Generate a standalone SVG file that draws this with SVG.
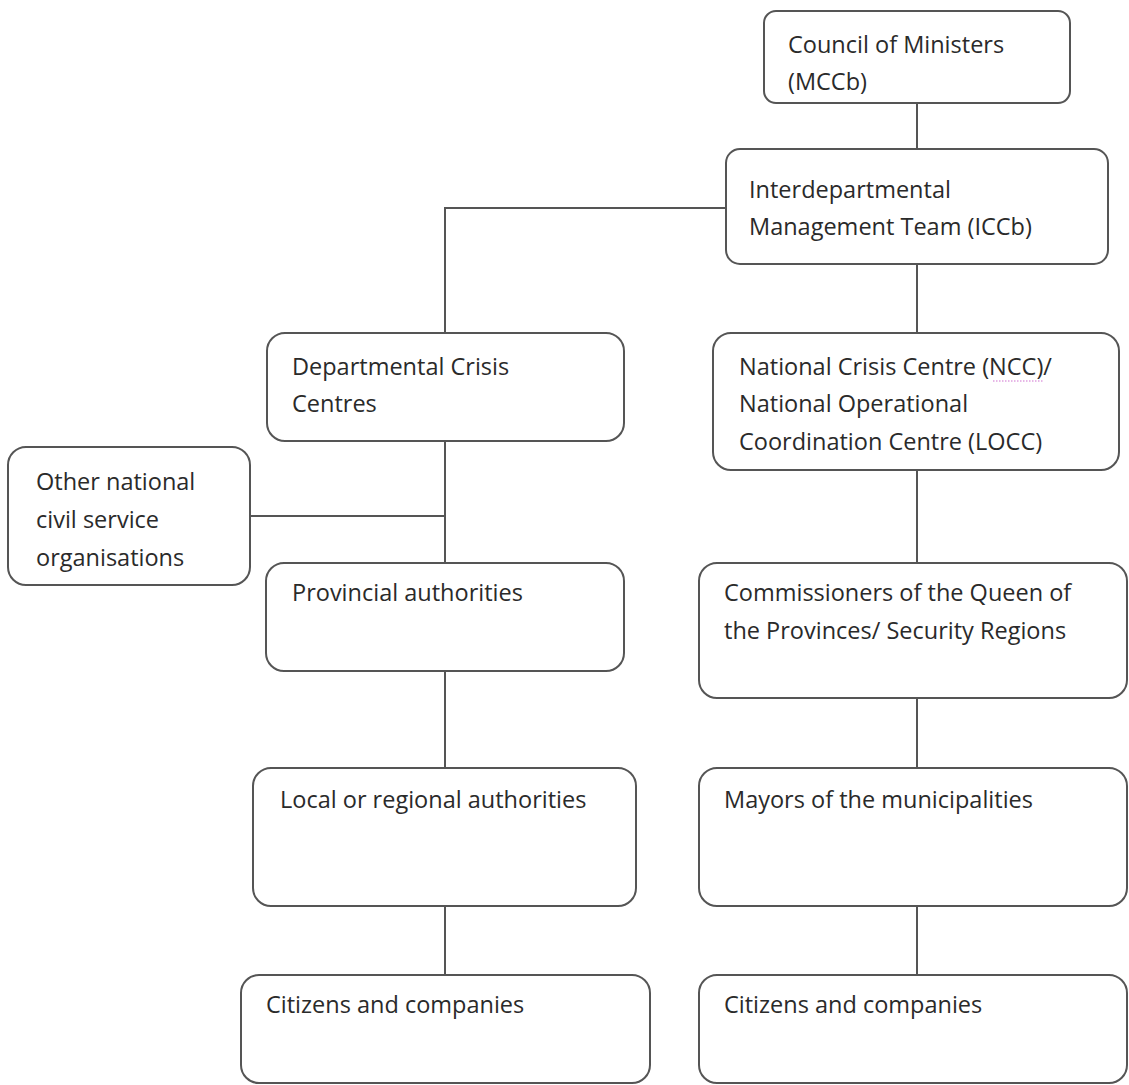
<svg xmlns="http://www.w3.org/2000/svg" width="1129" height="1085" viewBox="0 0 1129 1085">
<style>
.box{fill:#fff;stroke:#555;stroke-width:2}
.lbl{font-family:"Open Sans","Liberation Sans",sans-serif;font-size:23.5px;fill:#2a2a2a}
.con{fill:none;stroke:#555;stroke-width:2}
</style>
<rect width="1129" height="1085" fill="#fff"/>
<g id="connectors">
<path class="con" d="M917 103V149"/>
<path class="con" d="M726 208H445V333"/>
<path class="con" d="M917 264V333"/>
<path class="con" d="M445 441V563"/>
<path class="con" d="M250 516H445"/>
<path class="con" d="M917 469V563"/>
<path class="con" d="M445 671V768"/>
<path class="con" d="M917 698V768"/>
<path class="con" d="M445 906V975"/>
<path class="con" d="M917 906V975"/>
</g>
<g id="council"><rect class="box" x="764" y="11" width="306" height="92" rx="12"/>
<text class="lbl" x="788" y="53">Council of Ministers</text><text class="lbl" x="788" y="90">(MCCb)</text></g>
<g id="iccb"><rect class="box" x="726" y="149" width="382" height="115" rx="14"/>
<text class="lbl" x="749" y="198">Interdepartmental</text><text class="lbl" x="749" y="235">Management Team (ICCb)</text></g>
<g id="dcc"><rect class="box" x="267" y="333" width="357" height="108" rx="18"/>
<text class="lbl" x="292" y="375">Departmental Crisis</text><text class="lbl" x="292" y="412">Centres</text></g>
<g id="ncc"><rect class="box" x="713" y="333" width="406" height="137" rx="18"/>
<text class="lbl" x="739" y="375">National Crisis Centre (NCC)/</text><text class="lbl" x="739" y="412">National Operational</text><text class="lbl" x="739" y="450">Coordination Centre (LOCC)</text>
<path d="M993 381H1044" stroke="#d070d0" stroke-width="1.2" stroke-dasharray="1.5 1.5"/></g>
<g id="other"><rect class="box" x="8" y="447" width="242" height="138" rx="18"/>
<text class="lbl" x="36" y="490">Other national</text><text class="lbl" x="36" y="528">civil service</text><text class="lbl" x="36" y="566">organisations</text></g>
<g id="provincial"><rect class="box" x="266" y="563" width="358" height="108" rx="18"/>
<text class="lbl" x="292" y="601">Provincial authorities</text></g>
<g id="commissioners"><rect class="box" x="699" y="563" width="428" height="135" rx="18"/>
<text class="lbl" x="724" y="601">Commissioners of the Queen of</text><text class="lbl" x="724" y="639">the Provinces/ Security Regions</text></g>
<g id="local"><rect class="box" x="253" y="768" width="383" height="138" rx="18"/>
<text class="lbl" x="280" y="808">Local or regional authorities</text></g>
<g id="mayors"><rect class="box" x="699" y="768" width="428" height="138" rx="18"/>
<text class="lbl" x="724" y="808">Mayors of the municipalities</text></g>
<g id="citizens-left"><rect class="box" x="241" y="975" width="409" height="108" rx="18"/>
<text class="lbl" x="266" y="1013">Citizens and companies</text></g>
<g id="citizens-right"><rect class="box" x="699" y="975" width="428" height="108" rx="18"/>
<text class="lbl" x="724" y="1013">Citizens and companies</text></g>
</svg>
